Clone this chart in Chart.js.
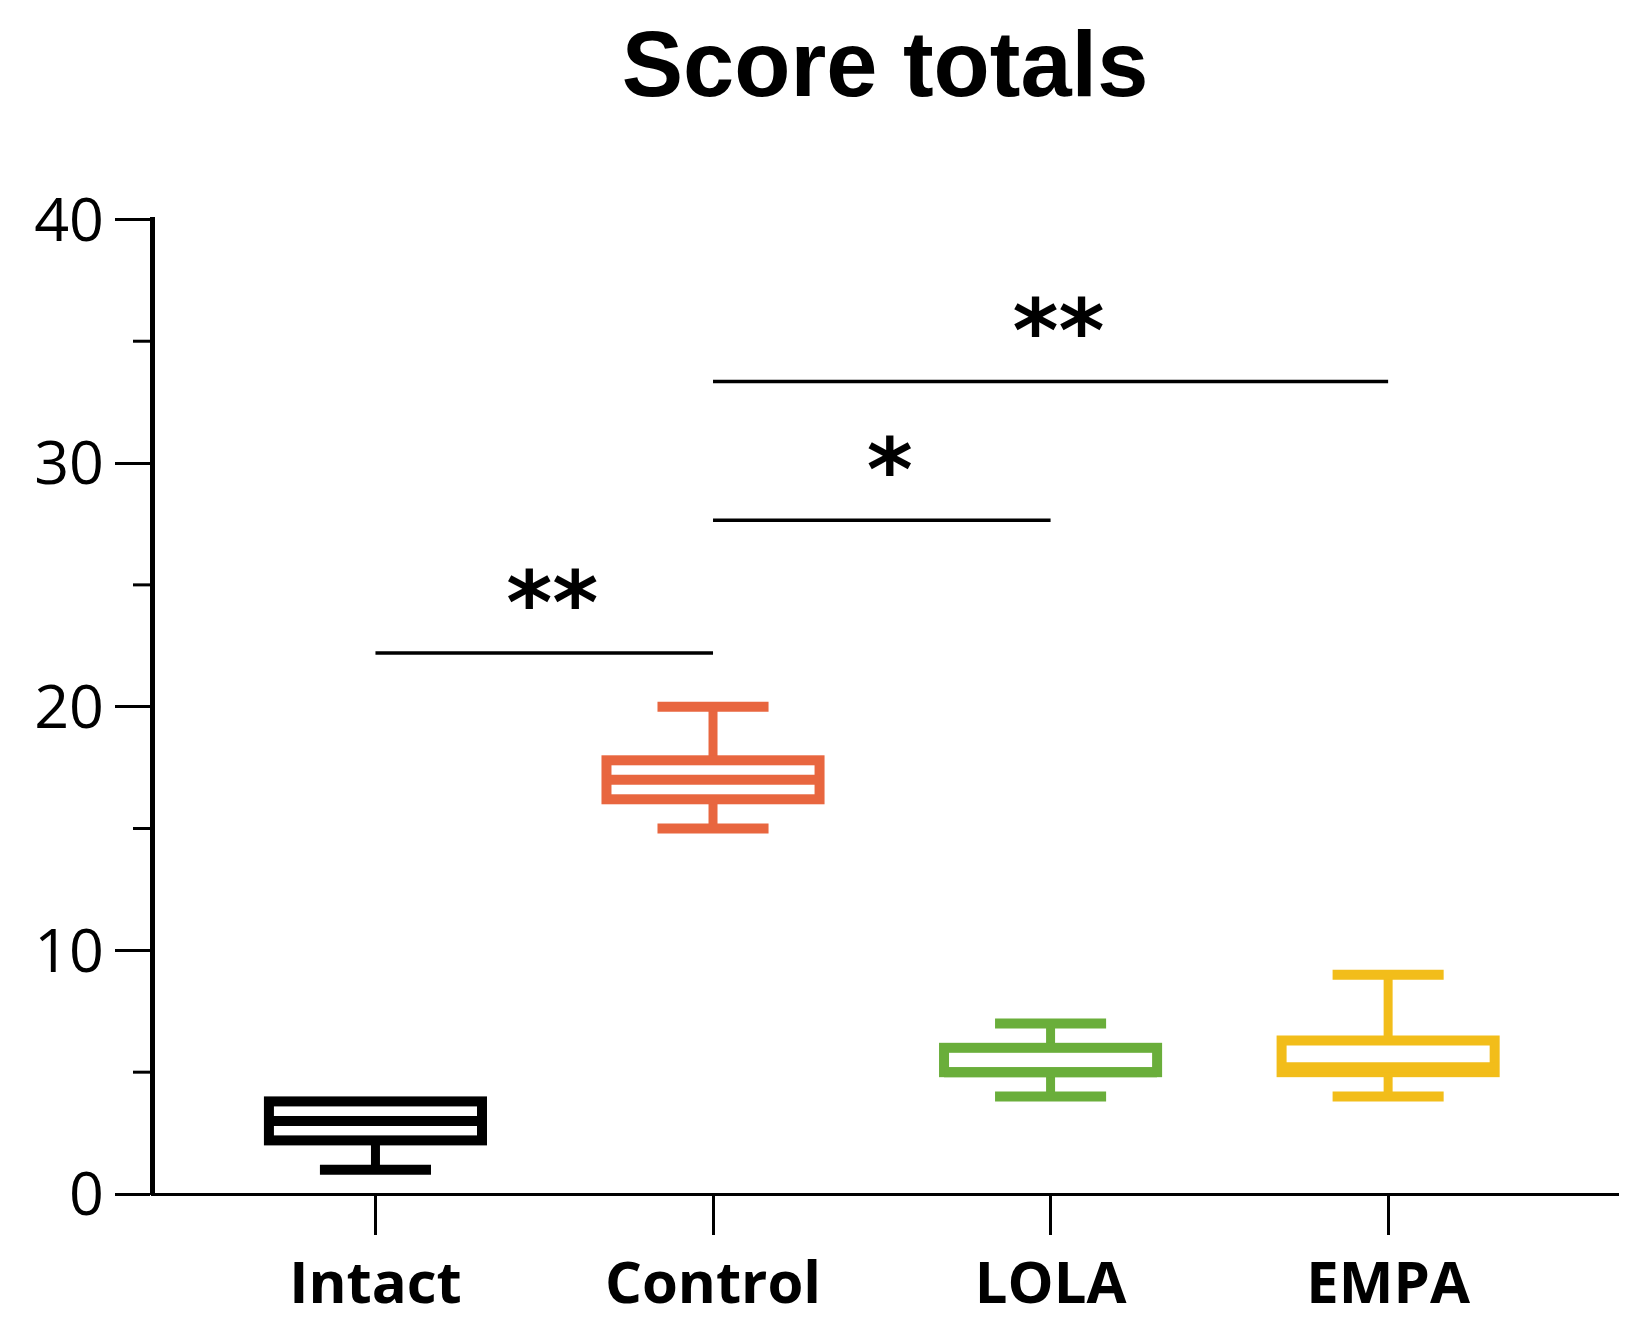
<!DOCTYPE html>
<html>
<head>
<meta charset="utf-8">
<script src="https://cdn.jsdelivr.net/npm/chart.js@4.4.1/dist/chart.umd.min.js"></script>
<style>
  html, body { margin: 0; padding: 0; background: #ffffff; }
  #wrap { width: 1637px; height: 1332px; position: relative; }
</style>
</head>
<body>
<div id="wrap"><canvas id="c"></canvas></div>
<script>
// ---- data ----
const categories = ['Intact', 'Control', 'LOLA', 'EMPA'];
const mins    = [1,   15,   4, 4];
const q1s     = [2.2, 16.2, 5, 5];
const medians = [3,   17,   5, 5.2];
const q3s     = [3.8, 17.8, 6, 6.3];
const maxs    = [3.8, 20,   7, 9];
const yTickValues = [0, 10, 20, 30, 40];
const yMinorTicks = [5, 15, 25, 35];
const sigFrom    = [0, 1, 1];
const sigTo      = [1, 2, 3];
const sigHeights = [22.2, 27.65, 33.35];
const sigLabels  = ['**', '*', '**'];

// ---- styles ----
const boxColors = ['#000000', '#E8663F', '#6AAE3B', '#F2BD1A'];
const BOX_HALF = 0.3156;   // half box width in category units
const CAP_HALF = 0.1645;   // half whisker-cap width in category units
const BOX_LW = 10;
const WHISK_LW = 9;
const SIG_LABEL_OFFSET = 2.65;
const SIG_LABEL_DX = 8;

const boxPlugin = {
  id: 'boxPlugin',
  afterDraw(chart) {
    const ctx = chart.ctx;
    const xs = chart.scales.x, ys = chart.scales.y;
    ctx.save();
    // minor y ticks
    ctx.strokeStyle = '#000';
    ctx.lineWidth = 3;
    yMinorTicks.forEach(v => {
      const py = ys.getPixelForValue(v);
      ctx.beginPath();
      ctx.moveTo(chart.chartArea.left - 19, py);
      ctx.lineTo(chart.chartArea.left, py);
      ctx.stroke();
    });
    // boxes
    categories.forEach((c, i) => {
      const cx = xs.getPixelForValue(i);
      const hb = xs.getPixelForValue(i + BOX_HALF) - cx;
      const hc = xs.getPixelForValue(i + CAP_HALF) - cx;
      const yMin = ys.getPixelForValue(mins[i]);
      const yQ1 = ys.getPixelForValue(q1s[i]);
      const yMed = ys.getPixelForValue(medians[i]);
      const yQ3 = ys.getPixelForValue(q3s[i]);
      const yMax = ys.getPixelForValue(maxs[i]);
      ctx.strokeStyle = boxColors[i];
      ctx.lineCap = 'butt';
      ctx.lineWidth = WHISK_LW;
      if (maxs[i] > q3s[i]) {
        ctx.beginPath(); ctx.moveTo(cx, yQ3); ctx.lineTo(cx, yMax); ctx.stroke();
        ctx.lineWidth = BOX_LW;
        ctx.beginPath(); ctx.moveTo(cx - hc, yMax); ctx.lineTo(cx + hc, yMax); ctx.stroke();
      }
      ctx.lineWidth = WHISK_LW;
      if (mins[i] < q1s[i]) {
        ctx.beginPath(); ctx.moveTo(cx, yQ1); ctx.lineTo(cx, yMin); ctx.stroke();
        ctx.lineWidth = BOX_LW;
        ctx.beginPath(); ctx.moveTo(cx - hc, yMin); ctx.lineTo(cx + hc, yMin); ctx.stroke();
      }
      ctx.lineWidth = BOX_LW;
      ctx.lineJoin = 'miter';
      ctx.fillStyle = '#fff';
      ctx.fillRect(cx - hb, yQ3, 2 * hb, yQ1 - yQ3);
      ctx.strokeRect(cx - hb, yQ3, 2 * hb, yQ1 - yQ3);
      ctx.beginPath(); ctx.moveTo(cx - hb, yMed); ctx.lineTo(cx + hb, yMed); ctx.stroke();
    });
    // significance bars
    ctx.strokeStyle = '#000';
    ctx.fillStyle = '#000';
    ctx.lineWidth = 3.5;
    ctx.font = 'bold 88px "DejaVu Sans"';
    ctx.textAlign = 'center';
    ctx.textBaseline = 'alphabetic';
    sigFrom.forEach((a, k) => {
      const x1 = xs.getPixelForValue(a), x2 = xs.getPixelForValue(sigTo[k]);
      const py = ys.getPixelForValue(sigHeights[k]);
      ctx.beginPath(); ctx.moveTo(x1, py); ctx.lineTo(x2, py); ctx.stroke();
      const ly = ys.getPixelForValue(sigHeights[k] + SIG_LABEL_OFFSET);
      const m = ctx.measureText(sigLabels[k]);
      const base = ly + (m.actualBoundingBoxAscent - m.actualBoundingBoxDescent) / 2;
      ctx.fillText(sigLabels[k], (x1 + x2) / 2 + SIG_LABEL_DX, base);
    });
    ctx.restore();
  }
};

Chart.defaults.color = '#000';
new Chart(document.getElementById('c'), {
  type: 'scatter',
  data: {
    datasets: [{
      label: 'median',
      data: medians.map((m, i) => ({ x: i, y: m })),
      pointRadius: 0,
      showLine: false
    }]
  },
  options: {
    responsive: true,
    maintainAspectRatio: false,
    devicePixelRatio: 1,
    animation: false,
    events: [],
    layout: { padding: { left: 0, right: 19, top: 0, bottom: 0 } },
    plugins: {
      legend: { display: false },
      tooltip: { enabled: false },
      title: {
        display: true,
        fullSize: false,
        text: 'Score totals',
        color: '#000',
        font: { family: '"Liberation Sans", Arial, sans-serif', size: 92, weight: 'bold', lineHeight: 1.2 },
        padding: { top: 15, bottom: 94 }
      }
    },
    scales: {
      x: {
        type: 'linear',
        min: -0.662,
        max: 3.681,
        afterBuildTicks(scale) {
          scale.ticks = categories.map((c, i) => ({ value: i }));
        },
        afterFit(scale) { scale.height = 138; },
        grid: {
          drawOnChartArea: false,
          drawTicks: true,
          tickLength: 41,
          tickWidth: 3,
          tickColor: '#000'
        },
        border: { display: true, color: '#000', width: 3 },
        ticks: {
          callback: (v) => categories[v],
          color: '#000',
          padding: 17,
          maxRotation: 0,
          autoSkip: false,
          font: { family: '"Open Sans", sans-serif', size: 58, weight: 'bold' }
        }
      },
      y: {
        type: 'linear',
        min: 0,
        max: 40,
        afterBuildTicks(scale) {
          scale.ticks = yTickValues.map(v => ({ value: v }));
        },
        afterFit(scale) { scale.width = 152; },
        grid: {
          drawOnChartArea: false,
          drawTicks: true,
          tickLength: 37,
          tickWidth: 3,
          tickColor: '#000'
        },
        border: { display: true, color: '#000', width: 5 },
        ticks: {
          color: '#000',
          padding: 11,
          labelOffset: 4,
          font: { family: '"Open Sans", sans-serif', size: 61, weight: 'normal' }
        }
      }
    }
  },
  plugins: [boxPlugin]
});
</script>
</body>
</html>
